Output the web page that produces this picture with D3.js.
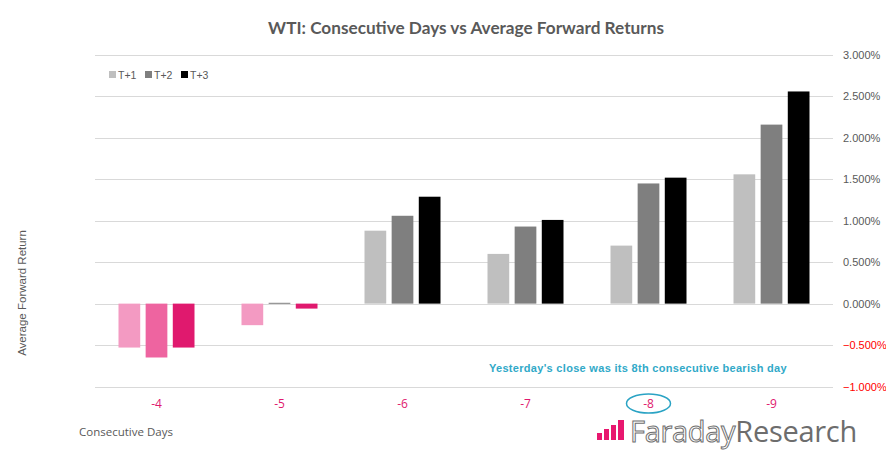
<!DOCTYPE html>
<html><head><meta charset="utf-8">
<script src="https://cdn.jsdelivr.net/npm/d3@7"></script>
<style>body{margin:0;background:#fff}svg{display:block}</style>
</head><body><svg id="c" width="886" height="460"></svg>
<script>
const categories = ["-4","-5","-6","-7","-8","-9"];
const seriesNames = ["T+1","T+2","T+3"];
const t1 = [-0.53,-0.26,0.88,0.60,0.70,1.56];
const t2 = [-0.65,0.01,1.06,0.93,1.45,2.16];
const t3 = [-0.53,-0.06,1.29,1.01,1.52,2.56];
const yTicks = [-1,-0.5,0,0.5,1,1.5,2,2.5,3];
const posColors = ["#bfbfbf","#7f7f7f","#000000"];
const negColors = ["#f39ac2","#ee64a0","#e0196e"];

const svg = d3.select("#c");
const x = d3.scaleBand().domain(categories).range([95,833]).paddingInner(0).paddingOuter(0);
const y = d3.scaleLinear().domain([-1,3]).range([386.5,55]);
const series = [t1,t2,t3];
const xs = d3.scaleBand().domain(seriesNames).range([0,76]).paddingInner(0.2);

// grid
svg.append("g").selectAll("line").data(yTicks).join("line")
  .attr("x1",95).attr("x2",833).attr("y1",d=>Math.round(y(d))+0.5).attr("y2",d=>Math.round(y(d))+0.5)
  .attr("stroke","#d9d9d9").attr("stroke-width",1.2);

// y axis labels
svg.append("g").selectAll("text").data(yTicks).join("text")
  .attr("x",843).attr("y",d=>y(d)+4).attr("font-family","'Liberation Sans',Arial,sans-serif")
  .attr("font-size",11).attr("fill",d=>d<0?"#ff0000":"#595959")
  .text(d=>d3.format(".3f")(d)+"%");

// bars
categories.forEach((c,i)=>{
  series.forEach((s,j)=>{
    const v = s[i];
    const bx = x(c)+x.bandwidth()/2-38+xs(seriesNames[j]);
    svg.append("rect").attr("x",bx).attr("width",xs.bandwidth())
      .attr("y",y(Math.max(0,v))).attr("height",Math.max(1,Math.abs(y(v)-y(0))))
      .attr("fill",v<0?negColors[j]:posColors[j]);
  });
});

// category labels
svg.append("g").selectAll("text").data(categories).join("text")
  .attr("x",d=>x(d)+x.bandwidth()/2).attr("y",408).attr("text-anchor","middle")
  .attr("font-family","'Open Sans',sans-serif").attr("font-size",12).attr("fill","#e0196e").text(d=>d);

// ellipse around -8
svg.append("ellipse").attr("cx",x("-8")+x.bandwidth()/2).attr("cy",403.5).attr("rx",22).attr("ry",9.5)
  .attr("fill","none").attr("stroke","#2aa3c4").attr("stroke-width",1.5);

// title
svg.append("text").attr("x",466).attr("y",34).attr("text-anchor","middle")
  .attr("font-family","Lato,sans-serif").attr("font-weight","bold").attr("font-size",17.2)
  .attr("fill","#595959").text("WTI: Consecutive Days vs Average Forward Returns");

// legend
const lg = svg.append("g");
seriesNames.forEach((n,j)=>{
  const lx = 109 + j*36;
  lg.append("rect").attr("x",lx).attr("y",71).attr("width",7).attr("height",7).attr("fill",posColors[j]);
  lg.append("text").attr("x",lx+9).attr("y",79).attr("font-family","'Liberation Sans',Arial,sans-serif")
    .attr("font-size",10.5).attr("fill","#595959").text(n);
});

// annotation
svg.append("text").attr("x",489).attr("y",372).attr("font-family","'Liberation Sans',Arial,sans-serif")
  .attr("font-weight","bold").attr("font-size",11).attr("letter-spacing",0.3).attr("fill","#31a9c8")
  .text("Yesterday's close was its 8th consecutive bearish day");

// axis titles
svg.append("text").attr("transform","translate(26,293) rotate(-90)").attr("text-anchor","middle")
  .attr("font-family","'Liberation Sans',Arial,sans-serif").attr("font-size",11.5).attr("fill","#595959")
  .text("Average Forward Return");
svg.append("text").attr("x",79).attr("y",436).attr("font-family","'Open Sans',sans-serif")
  .attr("font-size",11.5).attr("fill","#595959").text("Consecutive Days");

// logo
const logo = svg.append("g");
[[597,433,5,7],[604,429,5,11],[611,425,5,15],[618,420,6,20]].forEach(b=>{
  logo.append("rect").attr("x",b[0]).attr("y",b[1]).attr("width",b[2]).attr("height",b[3]).attr("fill","#e8176f");
});
const lt = logo.append("text").attr("x",630).attr("y",442).attr("font-family","'Open Sans',sans-serif")
  .attr("font-size",29).attr("letter-spacing",-0.3);
lt.append("tspan").attr("fill","#ffffff").attr("stroke","#707070").attr("stroke-width",1).text("Faraday");
lt.append("tspan").attr("fill","#6d6d6d").text("Research");
</script></body></html>
